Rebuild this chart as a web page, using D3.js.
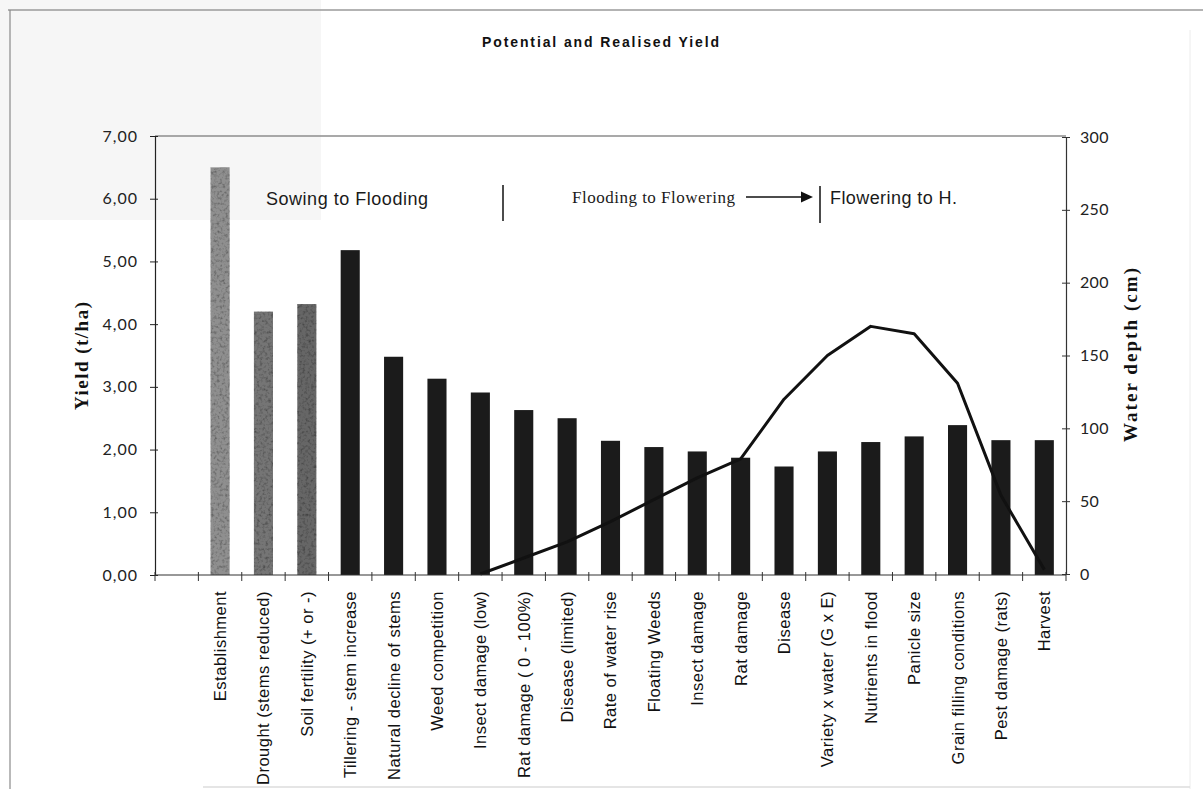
<!DOCTYPE html>
<html>
<head>
<meta charset="utf-8">
<script src="https://cdn.jsdelivr.net/npm/d3@7"></script>
<style>
  html, body { margin: 0; padding: 0; background: #ffffff; }
  svg { display: block; }
</style>
</head>
<body>
<svg id="chart" width="1203" height="789"></svg>
<script>
// Crop-stage factors along the season (first slot is an empty category)
const categories = [
  "", "Establishment", "Drought (stems reduced)", "Soil fertility (+ or -)",
  "Tillering - stem increase", "Natural decline of stems", "Weed competition",
  "Insect damage (low)", "Rat damage ( 0 - 100%)", "Disease (limited)",
  "Rate of water rise", "Floating Weeds", "Insect damage", "Rat damage", "Disease",
  "Variety x water (G x E)", "Nutrients in flood", "Panicle size",
  "Grain filling conditions", "Pest damage (rats)", "Harvest"
];
// Yield remaining after each factor (t/ha)
const yieldValues = [
  null, 6.50, 4.20, 4.32, 5.18, 3.48, 3.13, 2.91, 2.63, 2.50,
  2.14, 2.04, 1.97, 1.87, 1.73, 1.97, 2.12, 2.21, 2.39, 2.15, 2.15
];
// Water depth in the field (cm)
const waterDepth = [
  null, null, null, null, null, null, null, 0, 11, 22,
  36, 51, 66, 79, 120, 150, 170, 165, 131, 54, 3
];
const yieldTicks = [0, 1, 2, 3, 4, 5, 6, 7];
const depthTicks = [0, 50, 100, 150, 200, 250, 300];
const stages = ["Sowing to Flooding", "Flooding to Flowering", "Flowering to H."];

const svg = d3.select("#chart");

// Scan-style page frame
svg.append("rect").attr("x", 0).attr("y", 0).attr("width", 321).attr("height", 220).attr("fill", "#f6f6f6");
svg.append("line").attr("x1", 8).attr("x2", 1203).attr("y1", 10).attr("y2", 10).attr("stroke", "#9a9a9a").attr("stroke-width", 1.5);
svg.append("line").attr("x1", 10).attr("x2", 10).attr("y1", 10).attr("y2", 789).attr("stroke", "#8a8a8a").attr("stroke-width", 1.2);
svg.append("line").attr("x1", 1190).attr("x2", 1190).attr("y1", 30).attr("y2", 789).attr("stroke", "#ececec").attr("stroke-width", 1);
svg.append("line").attr("x1", 203).attr("x2", 1190).attr("y1", 787).attr("y2", 787).attr("stroke", "#dddddd").attr("stroke-width", 1.5);

// Plot area
const plotL = 155, plotR = 1066, plotT = 136, plotB = 575;

const x = d3.scaleBand().domain(categories.map((d, i) => i)).range([plotL, plotR])
  .paddingInner(0.56).paddingOuter(0.28);
const yL = d3.scaleLinear().domain([0, 7]).range([plotB, plotT]);
const yR = d3.scaleLinear().domain([0, 300]).range([plotB - 1, plotT + 1]);

// Mottled texture for the grey establishment-phase bars
const defs = svg.append("defs");
const flt = defs.append("filter").attr("id", "grain").attr("x", 0).attr("y", 0).attr("width", 1).attr("height", 1);
flt.append("feTurbulence").attr("type", "fractalNoise").attr("baseFrequency", 0.35).attr("numOctaves", 2).attr("seed", 4).attr("result", "noise");
flt.append("feColorMatrix").attr("in", "noise").attr("type", "matrix")
  .attr("values", "0 0 0 0 0  0 0 0 0 0  0 0 0 0 0  0 0 0 -1.4 0.75").attr("result", "spots");
flt.append("feComposite").attr("in", "spots").attr("in2", "SourceGraphic").attr("operator", "in").attr("result", "dots");
flt.append("feMerge").selectAll("feMergeNode").data(["SourceGraphic", "dots"]).join("feMergeNode").attr("in", d => d);

// Title
svg.append("text")
  .attr("x", 482).attr("y", 47)
  .attr("font-family", "Liberation Sans, Arial, sans-serif")
  .attr("font-weight", "bold").attr("font-size", 14)
  .attr("textLength", 237).attr("lengthAdjust", "spacing")
  .attr("fill", "#111")
  .text("Potential and Realised Yield");

// Plot top border
svg.append("line").attr("x1", plotL).attr("x2", plotR).attr("y1", plotT).attr("y2", plotT)
  .attr("stroke", "#8c8c8c").attr("stroke-width", 1.5);

// Bars
const shade = i => (i === 1 ? "#8f8f8f" : i === 2 ? "#747474" : i === 3 ? "#666666" : "#1b1b1b");
svg.append("g").selectAll("rect")
  .data(yieldValues.map((v, i) => ({ v, i })).filter(d => d.v !== null))
  .join("rect")
  .attr("x", d => x(d.i))
  .attr("width", x.bandwidth())
  .attr("y", d => yL(d.v))
  .attr("height", d => yL(0) - yL(d.v))
  .attr("fill", d => shade(d.i))
  .attr("filter", d => (d.i <= 3 ? "url(#grain)" : null));

// Water depth line
const linePts = waterDepth.map((v, i) => ({ v, i })).filter(d => d.v !== null);
svg.append("path")
  .datum(linePts)
  .attr("fill", "none").attr("stroke", "#111").attr("stroke-width", 3)
  .attr("stroke-linejoin", "round")
  .attr("d", d3.line().x(d => x(d.i) + x.bandwidth() / 2).y(d => yR(d.v)));

// Left axis
const fmt = d => d3.format(".2f")(d).replace(".", ",");
const gL = svg.append("g").attr("transform", `translate(${plotL},0)`)
  .call(d3.axisLeft(yL).tickValues(yieldTicks).tickFormat(fmt).tickSizeOuter(0).tickSizeInner(5).tickPadding(12));
gL.select(".domain").attr("stroke", "#222").attr("stroke-width", 1.2);
gL.selectAll(".tick line").attr("x1", 3).attr("stroke", "#222");
gL.selectAll(".tick text")
  .attr("font-family", "Lato, 'Open Sans', sans-serif").attr("font-size", 16)
  .attr("letter-spacing", 1).attr("fill", "#222");

// Right axis
const gR = svg.append("g").attr("transform", `translate(${plotR},0)`)
  .call(d3.axisRight(yR).tickValues(depthTicks).tickSizeOuter(0).tickSizeInner(4).tickPadding(10));
gR.select(".domain").attr("stroke", "#333").attr("stroke-width", 1.2);
gR.selectAll(".tick line").attr("x1", -4).attr("stroke", "#333");
gR.selectAll(".tick text")
  .attr("font-family", "Lato, 'Open Sans', sans-serif").attr("font-size", 16)
  .attr("letter-spacing", 0.3).attr("fill", "#222");

// Category axis: baseline, boundary ticks and rotated labels
svg.append("line").attr("x1", plotL).attr("x2", plotR).attr("y1", plotB).attr("y2", plotB)
  .attr("stroke", "#333").attr("stroke-width", 1.2);
const gap = (x.step() - x.bandwidth()) / 2;
const bounds = categories.map((c, i) => x(i) - gap).concat([x(categories.length - 1) + x.bandwidth() + gap]);
svg.append("g").selectAll("line").data(bounds).join("line")
  .attr("x1", d => d).attr("x2", d => d)
  .attr("y1", plotB - 3).attr("y2", plotB + 6)
  .attr("stroke", "#333").attr("stroke-width", 1);
svg.append("g").selectAll("text").data(categories.map((c, i) => ({ c, i })).filter(d => d.c))
  .join("text")
  .attr("transform", d => `translate(${x(d.i) + x.bandwidth() / 2},591) rotate(-90)`)
  .attr("dy", "0.36em")
  .attr("text-anchor", "end")
  .attr("font-family", "Liberation Sans, Arial, sans-serif")
  .attr("font-size", 16.5).attr("letter-spacing", 0.5)
  .attr("fill", "#111")
  .text(d => d.c);

// Axis titles
svg.append("text")
  .attr("transform", "translate(81,356) rotate(-90)")
  .attr("text-anchor", "middle").attr("dy", "0.35em")
  .attr("font-family", "Liberation Serif, 'Times New Roman', serif")
  .attr("font-weight", "bold").attr("font-size", 19)
  .attr("textLength", 108).attr("lengthAdjust", "spacing")
  .attr("fill", "#111")
  .text("Yield (t/ha)");
svg.append("text")
  .attr("transform", "translate(1130,355) rotate(-90)")
  .attr("text-anchor", "middle").attr("dy", "0.35em")
  .attr("font-family", "Liberation Serif, 'Times New Roman', serif")
  .attr("font-weight", "bold").attr("font-size", 19)
  .attr("textLength", 174).attr("lengthAdjust", "spacing")
  .attr("fill", "#111")
  .text("Water depth (cm)");

// Growth stage annotations
const ann = svg.append("g");
ann.append("text").attr("x", 266).attr("y", 205)
  .attr("font-family", "Liberation Sans, Arial, sans-serif").attr("font-size", 18)
  .attr("textLength", 162).attr("lengthAdjust", "spacing").attr("fill", "#1a1a1a")
  .text(stages[0]);
ann.append("line").attr("x1", 503).attr("x2", 503).attr("y1", 185).attr("y2", 221)
  .attr("stroke", "#111").attr("stroke-width", 1.5);
ann.append("text").attr("x", 572).attr("y", 203)
  .attr("font-family", "Liberation Serif, 'Times New Roman', serif").attr("font-size", 17)
  .attr("textLength", 163).attr("lengthAdjust", "spacing").attr("fill", "#1a1a1a")
  .text(stages[1]);
ann.append("line").attr("x1", 746).attr("x2", 803).attr("y1", 197).attr("y2", 197)
  .attr("stroke", "#111").attr("stroke-width", 1.3);
ann.append("path").attr("d", "M801,191.5 L813,197 L801,202.5 Z").attr("fill", "#111");
ann.append("line").attr("x1", 820).attr("x2", 820).attr("y1", 186).attr("y2", 223)
  .attr("stroke", "#111").attr("stroke-width", 1.5);
ann.append("text").attr("x", 830).attr("y", 204)
  .attr("font-family", "Liberation Sans, Arial, sans-serif").attr("font-size", 18)
  .attr("textLength", 127).attr("lengthAdjust", "spacing").attr("fill", "#1a1a1a")
  .text(stages[2]);
</script>
</body>
</html>
